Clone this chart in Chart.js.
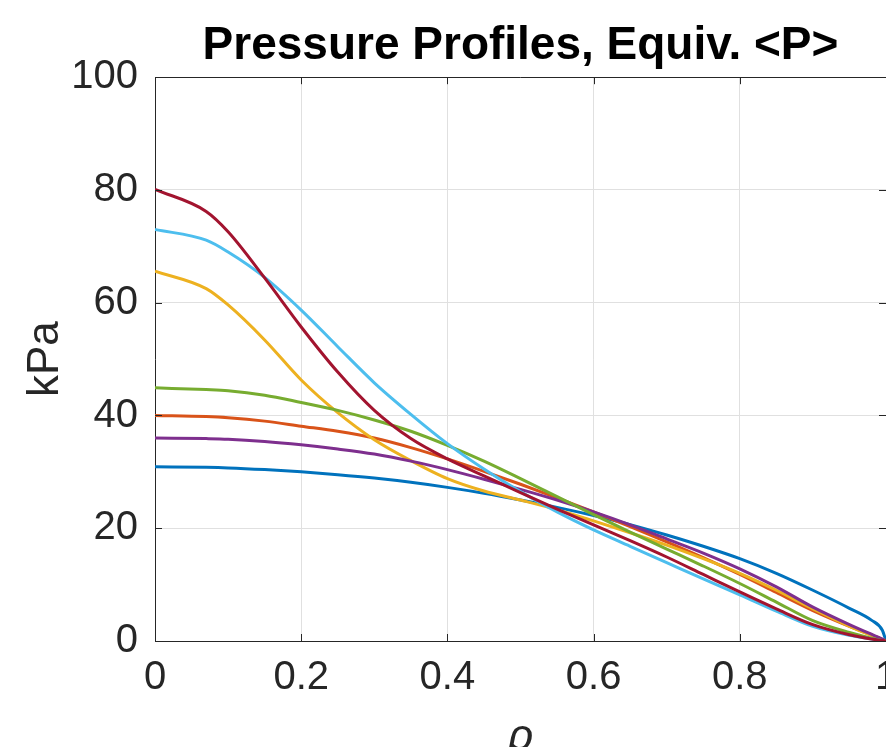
<!DOCTYPE html>
<html>
<head>
<meta charset="utf-8">
<script src="https://cdn.jsdelivr.net/npm/chart.js@4/dist/chart.umd.min.js"></script>
<style>
	html, body { margin: 0; padding: 0; background: #fff; }
	canvas { display: block; }
</style>
</head>
<body>
<canvas id="chart" width="886" height="747"></canvas>
<script>
// DATA
const rho = [0, 0.07, 0.1, 0.15, 0.2, 0.25, 0.3, 0.35, 0.4, 0.45, 0.5, 0.55, 0.6, 0.65, 0.7, 0.75, 0.8, 0.85, 0.9, 0.95, 0.98, 0.995, 1];
const blue = [30.9, 30.8, 30.7, 30.4, 30.0, 29.5, 28.9, 28.15, 27.25, 26.2, 25.0, 23.7, 22.25, 20.65, 18.8, 16.8, 14.6, 12.0, 9.0, 5.8, 3.7, 1.9, 0];
const orange = [40.0, 39.8, 39.6, 39.0, 38.1, 37.2, 36.0, 34.3, 32.3, 30.1, 27.8, 25.4, 22.9, 20.3, 17.6, 14.8, 11.8, 8.6, 5.4, 2.6, 1.1, 0.3, 0];
const yellow = [65.6, 62.5, 59.6, 53.4, 46.3, 40.5, 35.7, 32.0, 28.8, 26.6, 25.0, 23.3, 21.3, 19.2, 17.0, 14.6, 12.0, 9.0, 5.7, 2.6, 1.0, 0.3, 0];
const purple = [36.0, 35.9, 35.8, 35.4, 34.8, 34.05, 33.15, 31.9, 30.4, 28.7, 26.9, 25.0, 22.9, 20.6, 18.1, 15.6, 12.8, 9.6, 6.0, 2.9, 1.2, 0.35, 0];
const green = [44.9, 44.6, 44.4, 43.6, 42.3, 40.9, 39.2, 37.2, 34.7, 31.9, 28.8, 25.6, 22.4, 19.3, 16.3, 13.3, 10.2, 6.9, 3.6, 1.5, 0.5, 0.1, 0];
const lightBlue = [73.0, 71.1, 69.0, 64.5, 58.7, 52.2, 45.8, 40.2, 35.0, 30.5, 26.5, 22.9, 19.7, 16.8, 13.9, 11.0, 8.2, 5.3, 2.6, 1.0, 0.35, 0.05, 0];
const darkRed = [80.1, 76.2, 72.6, 64.4, 55.7, 47.7, 40.9, 35.9, 32.3, 29.3, 26.3, 23.4, 20.6, 17.8, 14.9, 11.8, 8.7, 5.7, 2.9, 1.1, 0.35, 0.08, 0];

const xTicks = [0, 0.2, 0.4, 0.6, 0.8, 1];
const xTickLabels = ["0", "0.2", "0.4", "0.6", "0.8", "1"];
const yTicks = [0, 20, 40, 60, 80, 100];
const yTickLabels = ["0", "20", "40", "60", "80", "100"];

const series = [
	{ values: blue, color: "#0072BD" },
	{ values: orange, color: "#D95319" },
	{ values: yellow, color: "#EDB120" },
	{ values: purple, color: "#7E2F8E" },
	{ values: green, color: "#77AC30" },
	{ values: lightBlue, color: "#4DBEEE" },
	{ values: darkRed, color: "#A2142F" },
];

const FONT = "'Liberation Sans', Arial, Helvetica, sans-serif";
const AXIS = "#262626";
const GRID = "#e0e0e0";

// matlab style box: top edge + inward ticks on all sides
const boxTicks = {
	id: "boxTicks",
	afterDraw(chart) {
		const { ctx, chartArea: a, scales: { x, y } } = chart;
		const len = 7;
		ctx.save();
		ctx.strokeStyle = AXIS;
		ctx.lineWidth = 1;
		ctx.beginPath();
		ctx.moveTo(a.left, Math.round(a.top) + 0.5);
		ctx.lineTo(a.right, Math.round(a.top) + 0.5);
		x.ticks.forEach((t) => {
			const px = Math.round(x.getPixelForValue(t.value)) + 0.5;
			ctx.moveTo(px, a.bottom);
			ctx.lineTo(px, a.bottom - len);
			ctx.moveTo(px, a.top);
			ctx.lineTo(px, a.top + len);
		});
		y.ticks.forEach((t) => {
			const py = Math.round(y.getPixelForValue(t.value)) + 0.5;
			ctx.moveTo(a.left, py);
			ctx.lineTo(a.left + len, py);
			ctx.moveTo(a.right, py);
			ctx.lineTo(a.right - len, py);
		});
		ctx.stroke();
		ctx.restore();
	},
};

const ctx = document.getElementById("chart").getContext("2d");
new Chart(ctx, {
	type: "line",
	data: {
		datasets: series.map((s, i) => ({
			data: rho.map((r, k) => ({ x: r, y: s.values[k] })),
			borderColor: s.color,
			backgroundColor: s.color,
			borderWidth: 3,
			pointRadius: 0,
			cubicInterpolationMode: "monotone",
			fill: false,
			order: series.length - 1 - i,
		})),
	},
	options: {
		responsive: false,
		animation: false,
		layout: { padding: 0 },
		plugins: {
			legend: { display: false },
			tooltip: { enabled: false },
			title: {
				display: true,
				text: "Pressure Profiles, Equiv. <P>",
				fullSize: false,
				color: "#000",
				font: { family: FONT, size: 46, weight: "bold", lineHeight: 1.2 },
				padding: { top: 19, bottom: 3 },
			},
		},
		scales: {
			x: {
				type: "linear",
				min: 0,
				max: 1,
				afterBuildTicks: (scale) => {
					scale.ticks = xTicks.map((v) => ({ value: v }));
				},
				afterFit: (scale) => {
					scale.height = 106;
					scale.paddingLeft = 0;
					scale.paddingRight = 0;
				},
				ticks: {
					color: AXIS,
					font: { family: FONT, size: 40 },
					padding: 13,
					maxRotation: 0,
					autoSkip: false,
					callback: (v, i) => xTickLabels[i],
				},
				grid: { color: GRID, drawTicks: false },
				border: { color: AXIS, width: 1 },
				title: {
					display: true,
					text: "ρ",
					color: AXIS,
					font: { family: FONT, size: 44, style: "italic", lineHeight: 0.4 },
					padding: 0,
				},
			},
			y: {
				type: "linear",
				min: 0,
				max: 100,
				afterBuildTicks: (scale) => {
					scale.ticks = yTicks.map((v) => ({ value: v }));
				},
				afterFit: (scale) => {
					scale.width = 155;
					scale.paddingTop = 0;
					scale.paddingBottom = 0;
				},
				ticks: {
					color: AXIS,
					font: { family: FONT, size: 40 },
					padding: 17,
					autoSkip: false,
					callback: (v, i) => yTickLabels[i],
				},
				grid: { color: GRID, drawTicks: false },
				border: { color: AXIS, width: 1 },
				title: {
					display: true,
					text: "kPa",
					color: AXIS,
					font: { family: FONT, size: 44, lineHeight: 1.2 },
					padding: { top: 19, bottom: 0 },
				},
			},
		},
	},
	plugins: [boxTicks],
});
</script>
</body>
</html>
